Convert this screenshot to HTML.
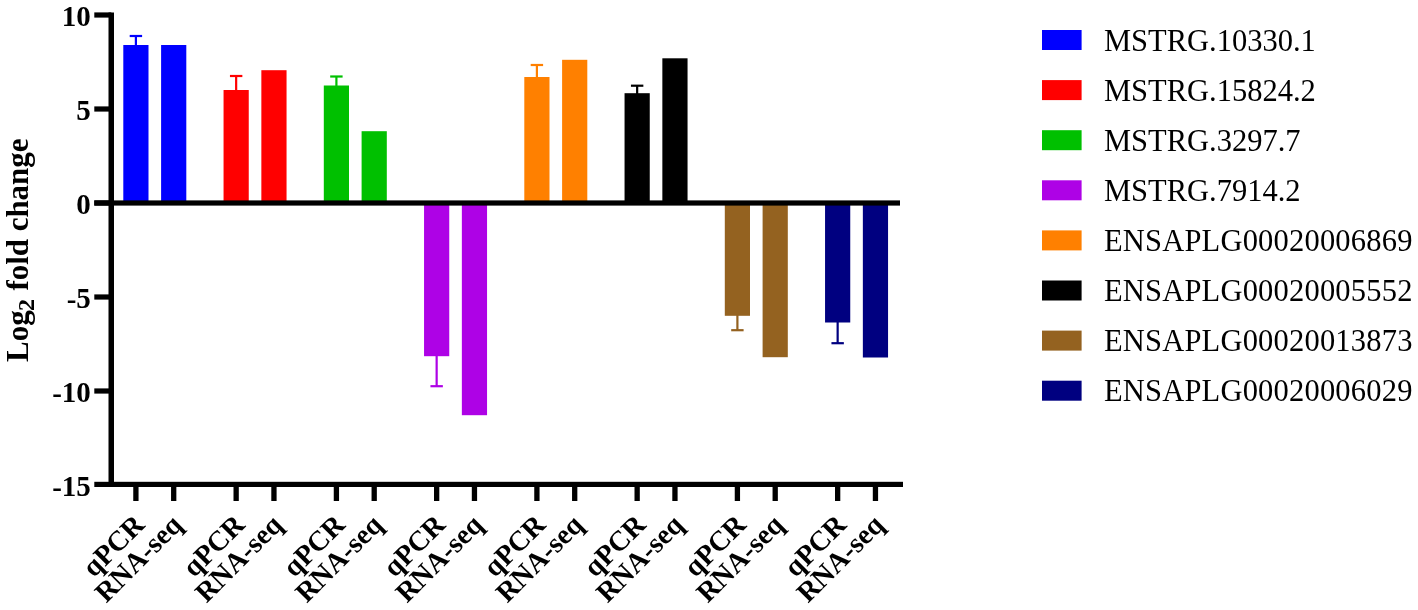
<!DOCTYPE html>
<html><head><meta charset="utf-8"><style>
html,body{margin:0;padding:0;background:#fff;}
svg{display:block;will-change:transform;}
text{font-kerning:none;font-feature-settings:"kern" 0;}
.b{font-family:"Liberation Serif",serif;font-weight:bold;}
.r{font-family:"Liberation Serif",serif;}
</style></head><body>
<svg width="1418" height="610" viewBox="0 0 1418 610">
<rect width="1418" height="610" fill="#fff"/>

<rect x="123.30" y="45" width="25.2" height="158.00" fill="#0000FF"/>
<rect x="161.10" y="45" width="25.2" height="158.00" fill="#0000FF"/>
<rect x="134.80" y="36.00" width="2.2" height="10.00" fill="#0000FF"/>
<rect x="129.70" y="34.90" width="12.4" height="2.2" fill="#0000FF"/>
<rect x="223.55" y="90" width="25.2" height="113.00" fill="#FF0000"/>
<rect x="261.35" y="70.2" width="25.2" height="132.80" fill="#FF0000"/>
<rect x="235.05" y="76.00" width="2.2" height="15.00" fill="#FF0000"/>
<rect x="229.95" y="74.90" width="12.4" height="2.2" fill="#FF0000"/>
<rect x="323.80" y="85.5" width="25.2" height="117.50" fill="#00C000"/>
<rect x="361.60" y="131.2" width="25.2" height="71.80" fill="#00C000"/>
<rect x="335.30" y="76.50" width="2.2" height="10.00" fill="#00C000"/>
<rect x="330.20" y="75.40" width="12.4" height="2.2" fill="#00C000"/>
<rect x="424.05" y="203" width="25.2" height="153.20" fill="#AE02E6"/>
<rect x="461.85" y="203" width="25.2" height="212.20" fill="#AE02E6"/>
<rect x="435.55" y="355.20" width="2.2" height="31.00" fill="#AE02E6"/>
<rect x="430.45" y="385.10" width="12.4" height="2.2" fill="#AE02E6"/>
<rect x="524.30" y="77" width="25.2" height="126.00" fill="#FF8000"/>
<rect x="562.10" y="59.8" width="25.2" height="143.20" fill="#FF8000"/>
<rect x="535.80" y="65.00" width="2.2" height="13.00" fill="#FF8000"/>
<rect x="530.70" y="63.90" width="12.4" height="2.2" fill="#FF8000"/>
<rect x="624.55" y="93.2" width="25.2" height="109.80" fill="#000000"/>
<rect x="662.35" y="58.3" width="25.2" height="144.70" fill="#000000"/>
<rect x="636.05" y="85.70" width="2.2" height="8.50" fill="#000000"/>
<rect x="630.95" y="84.60" width="12.4" height="2.2" fill="#000000"/>
<rect x="724.80" y="203" width="25.2" height="112.80" fill="#946220"/>
<rect x="762.60" y="203" width="25.2" height="154.20" fill="#946220"/>
<rect x="736.30" y="314.80" width="2.2" height="15.40" fill="#946220"/>
<rect x="731.20" y="329.10" width="12.4" height="2.2" fill="#946220"/>
<rect x="825.05" y="203" width="25.2" height="119.50" fill="#000080"/>
<rect x="862.85" y="203" width="25.2" height="154.50" fill="#000080"/>
<rect x="836.55" y="321.50" width="2.2" height="21.70" fill="#000080"/>
<rect x="831.45" y="342.10" width="12.4" height="2.2" fill="#000080"/>
<rect x="108.5" y="12.5" width="5.5" height="474.5" fill="#000"/>
<rect x="94.3" y="12.4" width="17" height="5.2" fill="#000"/>
<rect x="94.3" y="106.4" width="17" height="5.2" fill="#000"/>
<rect x="94.3" y="200.4" width="17" height="5.2" fill="#000"/>
<rect x="94.3" y="294.4" width="17" height="5.2" fill="#000"/>
<rect x="94.3" y="388.4" width="17" height="5.2" fill="#000"/>
<rect x="94.3" y="200.4" width="805.7" height="5.2" fill="#000"/>
<rect x="94.3" y="481.8" width="808.7" height="5.2" fill="#000"/>
<rect x="133.25" y="485" width="5.3" height="16" fill="#000"/>
<rect x="171.05" y="485" width="5.3" height="16" fill="#000"/>
<rect x="233.50" y="485" width="5.3" height="16" fill="#000"/>
<rect x="271.30" y="485" width="5.3" height="16" fill="#000"/>
<rect x="333.75" y="485" width="5.3" height="16" fill="#000"/>
<rect x="371.55" y="485" width="5.3" height="16" fill="#000"/>
<rect x="434.00" y="485" width="5.3" height="16" fill="#000"/>
<rect x="471.80" y="485" width="5.3" height="16" fill="#000"/>
<rect x="534.25" y="485" width="5.3" height="16" fill="#000"/>
<rect x="572.05" y="485" width="5.3" height="16" fill="#000"/>
<rect x="634.50" y="485" width="5.3" height="16" fill="#000"/>
<rect x="672.30" y="485" width="5.3" height="16" fill="#000"/>
<rect x="734.75" y="485" width="5.3" height="16" fill="#000"/>
<rect x="772.55" y="485" width="5.3" height="16" fill="#000"/>
<rect x="835.00" y="485" width="5.3" height="16" fill="#000"/>
<rect x="872.80" y="485" width="5.3" height="16" fill="#000"/>
<text class="b" x="90.8" y="25.7" font-size="29" text-anchor="end">10</text>
<text class="b" x="90.8" y="119.7" font-size="29" text-anchor="end">5</text>
<text class="b" x="90.8" y="213.7" font-size="29" text-anchor="end">0</text>
<text class="b" x="90.8" y="307.7" font-size="29" text-anchor="end"><tspan dy="1.3">-</tspan><tspan dy="-1.3">5</tspan></text>
<text class="b" x="90.8" y="401.7" font-size="29" text-anchor="end"><tspan dy="1.3">-</tspan><tspan dy="-1.3">10</tspan></text>
<text class="b" x="90.8" y="495.7" font-size="29" text-anchor="end"><tspan dy="1.3">-</tspan><tspan dy="-1.3">15</tspan></text>
<g transform="translate(27.5,362) rotate(-90)"><text class="b" x="0" y="0" font-size="31">Log</text><text class="b" x="51" y="6.5" font-size="24">2</text><text class="b" x="71.5" y="0" font-size="31" textLength="152" lengthAdjust="spacing">fold change</text></g>
<text class="b" transform="translate(145.90,526.3) rotate(-45)" font-size="28.2" text-anchor="end">qPCR</text>
<text class="b" transform="translate(183.70,526.3) rotate(-45)" font-size="28.2" text-anchor="end">RNA-seq</text>
<text class="b" transform="translate(246.15,526.3) rotate(-45)" font-size="28.2" text-anchor="end">qPCR</text>
<text class="b" transform="translate(283.95,526.3) rotate(-45)" font-size="28.2" text-anchor="end">RNA-seq</text>
<text class="b" transform="translate(346.40,526.3) rotate(-45)" font-size="28.2" text-anchor="end">qPCR</text>
<text class="b" transform="translate(384.20,526.3) rotate(-45)" font-size="28.2" text-anchor="end">RNA-seq</text>
<text class="b" transform="translate(446.65,526.3) rotate(-45)" font-size="28.2" text-anchor="end">qPCR</text>
<text class="b" transform="translate(484.45,526.3) rotate(-45)" font-size="28.2" text-anchor="end">RNA-seq</text>
<text class="b" transform="translate(546.90,526.3) rotate(-45)" font-size="28.2" text-anchor="end">qPCR</text>
<text class="b" transform="translate(584.70,526.3) rotate(-45)" font-size="28.2" text-anchor="end">RNA-seq</text>
<text class="b" transform="translate(647.15,526.3) rotate(-45)" font-size="28.2" text-anchor="end">qPCR</text>
<text class="b" transform="translate(684.95,526.3) rotate(-45)" font-size="28.2" text-anchor="end">RNA-seq</text>
<text class="b" transform="translate(747.40,526.3) rotate(-45)" font-size="28.2" text-anchor="end">qPCR</text>
<text class="b" transform="translate(785.20,526.3) rotate(-45)" font-size="28.2" text-anchor="end">RNA-seq</text>
<text class="b" transform="translate(847.65,526.3) rotate(-45)" font-size="28.2" text-anchor="end">qPCR</text>
<text class="b" transform="translate(885.45,526.3) rotate(-45)" font-size="28.2" text-anchor="end">RNA-seq</text>
<rect x="1042" y="30.0" width="39.6" height="20" fill="#0000FF"/>
<text class="r" x="1104" y="50.5" font-size="30.5">MSTRG.10330.1</text>
<rect x="1042" y="80.1" width="39.6" height="20" fill="#FF0000"/>
<text class="r" x="1104" y="100.6" font-size="30.5">MSTRG.15824.2</text>
<rect x="1042" y="130.2" width="39.6" height="20" fill="#00C000"/>
<text class="r" x="1104" y="150.7" font-size="30.5">MSTRG.3297.7</text>
<rect x="1042" y="180.3" width="39.6" height="20" fill="#AE02E6"/>
<text class="r" x="1104" y="200.8" font-size="30.5">MSTRG.7914.2</text>
<rect x="1042" y="230.4" width="39.6" height="20" fill="#FF8000"/>
<text class="r" x="1104" y="250.9" font-size="30.5" letter-spacing="0.2">ENSAPLG00020006869</text>
<rect x="1042" y="280.5" width="39.6" height="20" fill="#000000"/>
<text class="r" x="1104" y="301.0" font-size="30.5" letter-spacing="0.2">ENSAPLG00020005552</text>
<rect x="1042" y="330.6" width="39.6" height="20" fill="#946220"/>
<text class="r" x="1104" y="351.1" font-size="30.5" letter-spacing="0.2">ENSAPLG00020013873</text>
<rect x="1042" y="380.7" width="39.6" height="20" fill="#000080"/>
<text class="r" x="1104" y="401.2" font-size="30.5" letter-spacing="0.2">ENSAPLG00020006029</text>
</svg>
</body></html>
